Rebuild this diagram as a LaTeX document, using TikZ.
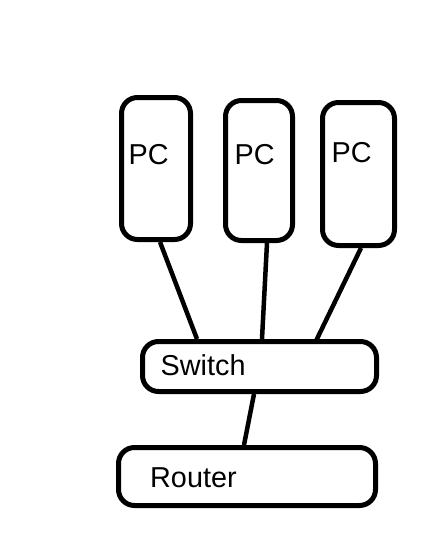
\documentclass[tikz,border=0pt]{standalone}
\usepackage{fontspec}
\setmainfont{Liberation Sans}
\usetikzlibrary{calc}
\begin{document}
\begin{tikzpicture}[x=1pt,y=-1pt,
  box/.style={draw=black,line width=5pt,rounded corners=16pt,inner sep=0pt,fill=white},
  lbl/.style={anchor=base west,inner sep=0pt,font=\fontsize{28.8}{32}\selectfont},
  wire/.style={line width=4.5pt}]
\useasboundingbox[fill=white] (0,0) rectangle (437,536);
% boxes
\node[box,minimum width=69pt,minimum height=142pt] (pc1) at (156,168.5) {};
\node[box,minimum width=67pt,minimum height=140pt] (pc2) at (259,170.5) {};
\node[box,minimum width=72pt,minimum height=143pt] (pc3) at (358.5,174) {};
\node[box,minimum width=234pt,minimum height=50pt] (sw) at (259.5,366.5) {};
\node[box,minimum width=257pt,minimum height=58pt] (rt) at (247,476.5) {};
% labels
\node[lbl] (pc1t) at (128.5,164) {PC};
\node[lbl] (pc2t) at (234.5,164) {PC};
\node[lbl] (pc3t) at (331.5,162) {PC};
\node[lbl] (swt) at (160.5,375) {Switch};
\node[lbl] (rtt) at (150,487) {Router};
% connectors
\draw[wire] ($(pc1.south)+(4,0)$) -- ($(sw.north)+(-62.5,0)$);
\draw[wire] ($(pc2.south)+(8,0)$) -- ($(sw.north)+(2.5,0)$);
\draw[wire] ($(pc3.south)+(2.5,0)$) -- ($(sw.north)+(55.5,4)$);
\draw[wire] ($(sw.south)+(-5.5,0)$) -- ($(rt.north)+(-3,0)$);
\end{tikzpicture}
\end{document}
